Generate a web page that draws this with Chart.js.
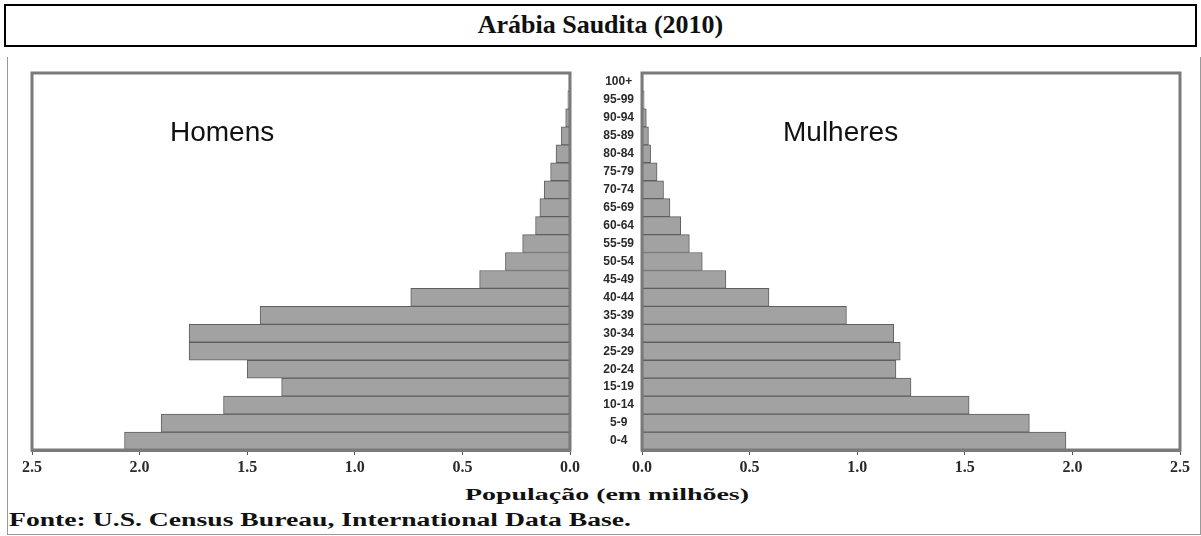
<!DOCTYPE html>
<html>
<head>
<meta charset="utf-8">
<script src="https://cdn.jsdelivr.net/npm/chart.js@4.4.1/dist/chart.umd.min.js"></script>
<style>
  html, body { margin: 0; padding: 0; background: #fff; }
  body { width: 1201px; height: 536px; position: relative; overflow: hidden; }
  #titleBox { position: absolute; left: 4px; top: 4px; width: 1193px; height: 43px; box-sizing: border-box;
    border: 2px solid #000; font: bold 26px "Liberation Serif", "Times New Roman", serif; color: #111;
    text-align: center; line-height: 38px; }
  #frame { position: absolute; left: 7px; top: 57px; width: 1194px; height: 478px; box-sizing: border-box;
    border-left: 1px solid #999; border-right: 1px solid #999; border-bottom: 1px solid #999; }
  .wrap { position: absolute; }
  .lbl { position: absolute; white-space: nowrap; color: #111; }
  #homens { left: 170px; top: 116px; font: 28px "Liberation Sans", Arial, sans-serif; }
  #mulheres { left: 783px; top: 116px; font: 28px "Liberation Sans", Arial, sans-serif; }
  #axisTitle { top: 485px; font: bold 17px "Liberation Serif", "Times New Roman", serif; transform-origin: 0 0; }
  #source { left: 9px; top: 510px; font: bold 18px "Liberation Serif", "Times New Roman", serif; transform-origin: 0 0; }
</style>
</head>
<body>
<div id="titleBox">Arábia Saudita (2010)</div>
<div id="frame"></div>
<div class="wrap" style="left:0px;top:55px;width:584px;height:425px;"><canvas id="left"></canvas></div>
<div class="wrap" style="left:570px;top:55px;width:631px;height:425px;"><canvas id="right"></canvas></div>
<div class="lbl" id="homens">Homens</div>
<div class="lbl" id="mulheres">Mulheres</div>
<div class="lbl" id="axisTitle">População (em milhões)</div>
<div class="lbl" id="source">Fonte: U.S. Census Bureau, International Data Base.</div>
<script>
// ---- data (millions), youngest group first ----
const ageGroups = ['0-4','5-9','10-14','15-19','20-24','25-29','30-34','35-39','40-44','45-49',
  '50-54','55-59','60-64','65-69','70-74','75-79','80-84','85-89','90-94','95-99','100+'];
const male   = [2.07,1.90,1.61,1.34,1.50,1.77,1.77,1.44,0.74,0.42,0.30,0.22,0.16,0.14,0.12,0.09,0.065,0.04,0.02,0.01,0.005];
const female = [1.97,1.80,1.52,1.25,1.18,1.20,1.17,0.95,0.59,0.39,0.28,0.22,0.18,0.13,0.10,0.07,0.04,0.03,0.02,0.01,0.005];
const axisMin = 0, axisMax = 2.5, axisStep = 0.5;

const barFill = '#a2a2a2', barEdge = '#5e5e5e';

const framePlugin = {
  id: 'panelFrame',
  afterDatasetsDraw(chart) {
    const a = chart.chartArea, ctx = chart.ctx;
    ctx.save();
    ctx.strokeStyle = '#7a7a7a';
    ctx.lineWidth = 3;
    ctx.strokeRect(a.left, a.top, a.right - a.left, a.bottom - a.top);
    ctx.restore();
  }
};

function xScale(reverse) {
  return {
    reverse: reverse, min: axisMin, max: axisMax,
    ticks: { stepSize: axisStep, autoSkip: false, maxRotation: 0, padding: 3,
      font: { family: 'Liberation Serif', size: 16, weight: 'bold' }, color: '#2a2a2a',
      callback: v => Number(v).toFixed(1) },
    grid: { display: true, drawOnChartArea: false, drawTicks: true, tickLength: 5, color: '#555' },
    border: { display: true, width: 3, color: '#7a7a7a' },
    afterFit: s => { s.height = 30; }
  };
}

new Chart(document.getElementById('left'), {
  type: 'bar',
  data: { labels: ageGroups, datasets: [{ data: male, backgroundColor: barFill, borderColor: barEdge,
    borderWidth: 1, borderSkipped: false, categoryPercentage: 1.0, barPercentage: 1.0 }] },
  options: {
    indexAxis: 'y', responsive: true, maintainAspectRatio: false, animation: false,
    layout: { padding: { left: 32, right: 14, top: 18, bottom: 0 } },
    plugins: { legend: { display: false }, tooltip: { enabled: false }, title: { display: false } },
    scales: { x: xScale(true), y: { display: false, reverse: true } }
  },
  plugins: [framePlugin]
});

new Chart(document.getElementById('right'), {
  type: 'bar',
  data: { labels: ageGroups, datasets: [{ data: female, backgroundColor: barFill, borderColor: barEdge,
    borderWidth: 1, borderSkipped: false, categoryPercentage: 1.0, barPercentage: 1.0 }] },
  options: {
    indexAxis: 'y', responsive: true, maintainAspectRatio: false, animation: false,
    layout: { padding: { left: 0, right: 21, top: 18, bottom: 0 } },
    plugins: { legend: { display: false }, tooltip: { enabled: false }, title: { display: false } },
    scales: {
      x: xScale(false),
      y: { reverse: true, position: 'left',
        ticks: { crossAlign: 'center', padding: 0, autoSkip: false,
          font: { family: 'Liberation Sans', size: 12, weight: 'bold' }, color: '#2a2a2a' },
        grid: { display: false }, border: { display: false },
        afterFit: s => { s.width = 72; } }
    }
  },
  plugins: [framePlugin]
});

// stretch bottom texts horizontally to their target spans
function fitWidth(id, left, width) {
  const el = document.getElementById(id);
  const w = el.getBoundingClientRect().width;
  el.style.left = left + 'px';
  el.style.transform = 'scaleX(' + (width / w) + ')';
}
fitWidth('axisTitle', 465, 284);
fitWidth('source', 9, 622);
</script>
</body>
</html>
